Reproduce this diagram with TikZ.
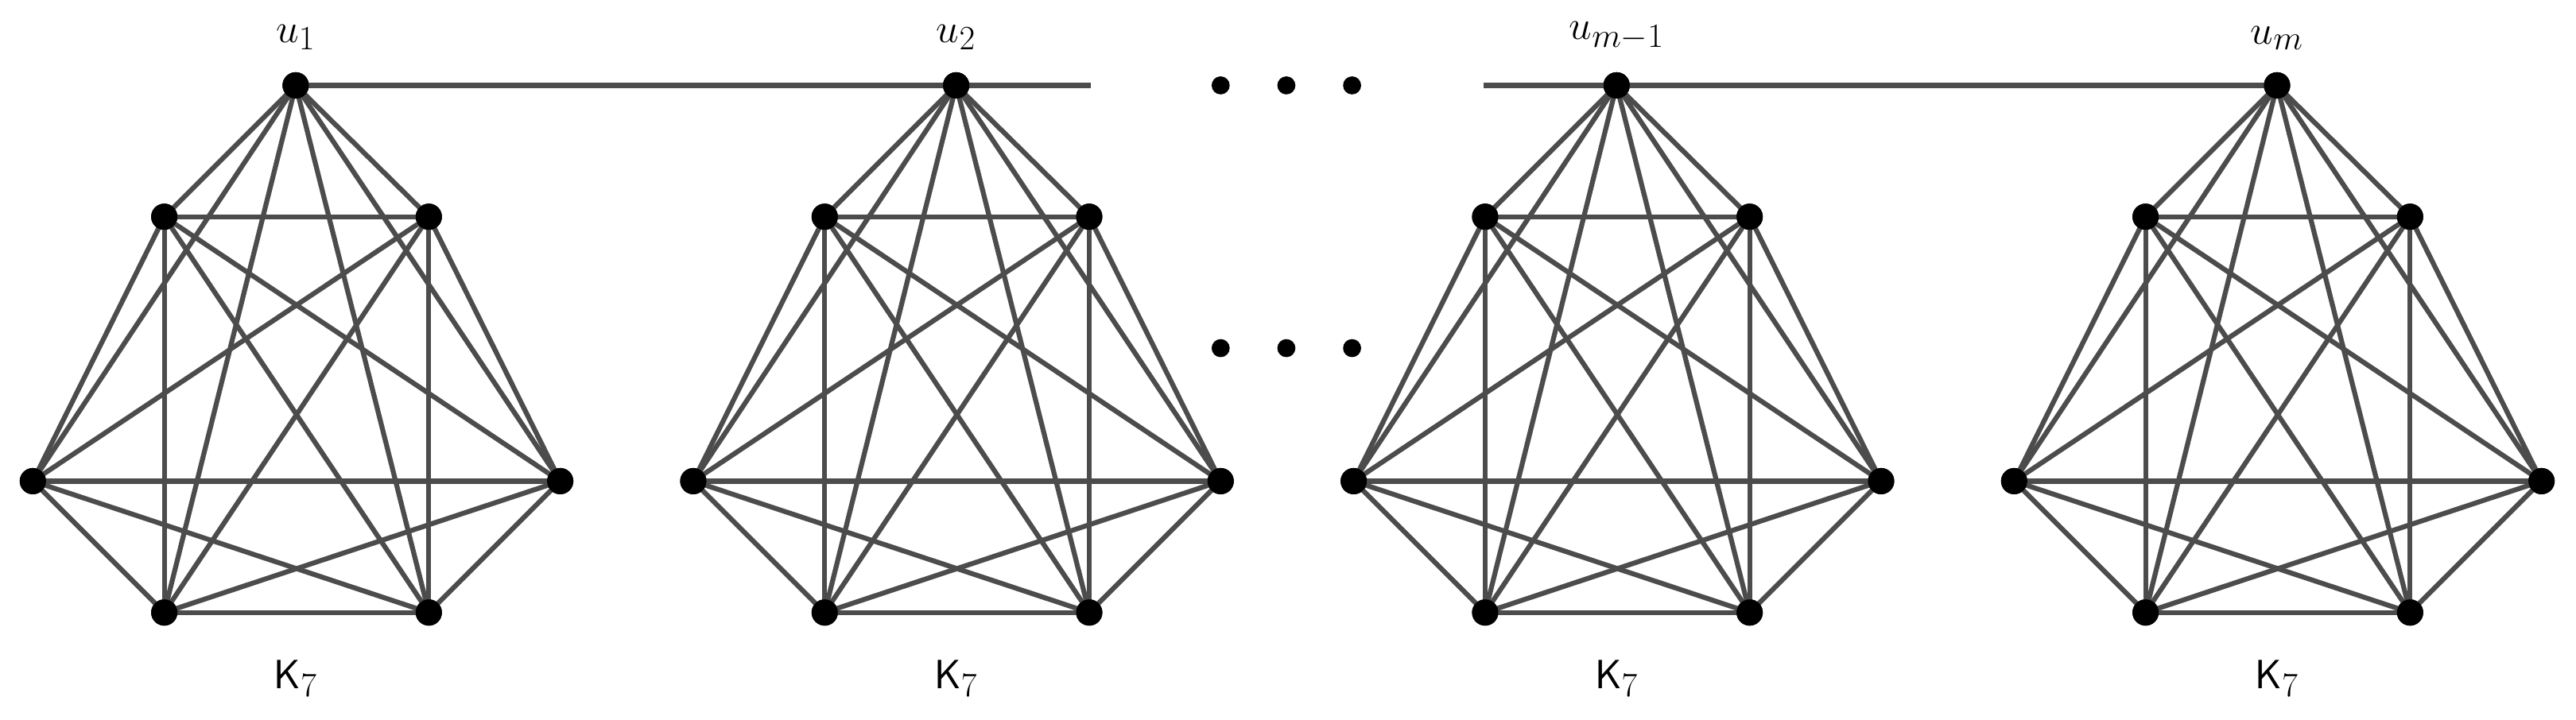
\documentclass[tikz,border=0pt]{standalone}
\begin{document}
\begin{tikzpicture}[x=1pt,y=-1pt,
  vtx/.style={circle,fill=black,inner sep=0pt,minimum size=16pt},
  edge/.style={line width=3pt,draw=black!70},
  dotv/.style={circle,fill=black,inner sep=0pt,minimum size=11pt},
  lab/.style={font=\fontsize{28}{34}\selectfont}]
\useasboundingbox (0,0) rectangle (1568,438);
\foreach \g/\ox in {1/0,2/402,3/804,4/1206}{
  \node[vtx] (g\g v1) at (\ox+180,52) {};
  \node[vtx] (g\g v2) at (\ox+100,132) {};
  \node[vtx] (g\g v3) at (\ox+261,132) {};
  \node[vtx] (g\g v4) at (\ox+20,293) {};
  \node[vtx] (g\g v5) at (\ox+341,293) {};
  \node[vtx] (g\g v6) at (\ox+100,373) {};
  \node[vtx] (g\g v7) at (\ox+261,373) {};
  \foreach \i in {1,...,6}{
    \pgfmathtruncatemacro\jstart{\i+1}
    \foreach \j in {\jstart,...,7}{
      \draw[edge] (g\g v\i.center) -- (g\g v\j.center);
    }
  }
  \foreach \i in {1,...,7}{\node[vtx] at (g\g v\i) {};}
  \node[lab] (k\g) at (\ox+180,413) {$\mathsf{K}_7$};
}
\node[lab,anchor=south] (l1) at (180,34) {$u_1$};
\node[lab,anchor=south] (l2) at (582,34) {$u_2$};
\node[lab,anchor=south] (l3) at (984,34) {$u_{m-1}$};
\node[lab,anchor=south] (l4) at (1386,34) {$u_m$};
\coordinate (e1) at (664,52);
\coordinate (e2) at (903,52);
\draw[edge] (g1v1.center) -- (g2v1.center) -- (e1);
\draw[edge] (e2) -- (g3v1.center) -- (g4v1.center);
\foreach \k in {1,...,4}{\node[vtx] at (g\k v1) {};}
\foreach \x/\n in {743/a,783/b,823/c}{
  \node[dotv] (t\n) at (\x,52) {};
  \node[dotv] (m\n) at (\x,212) {};
}
\end{tikzpicture}
\end{document}
